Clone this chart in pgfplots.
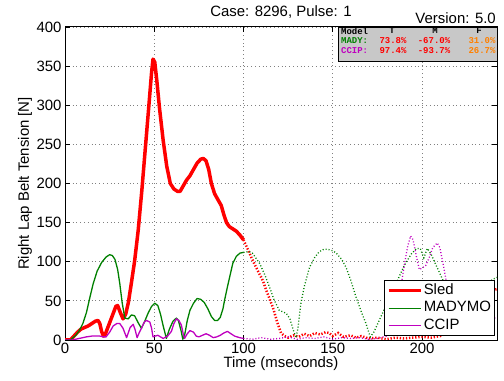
\documentclass[border=0pt]{standalone}
\usepackage{pgfplots}
\pgfplotsset{compat=1.18}
\usepackage{fontspec}
\setmainfont{Liberation Sans}
\setmonofont{Liberation Mono}

\definecolor{sledred}{RGB}{255,0,0}
\definecolor{madygreen}{RGB}{0,128,0}
\definecolor{ccipmag}{RGB}{191,0,191}
\definecolor{boxgray}{RGB}{200,200,200}
\definecolor{statorange}{RGB}{255,128,0}

\begin{document}
\begin{tikzpicture}[font=\fontsize{15}{18}\selectfont]
  % full frame of the reference image
  \path (-65bp,-41bp) rectangle (439bp,340bp);
  \begin{axis}[
      scale only axis,
      width=432bp, height=313bp,
      at={(0,0)}, anchor=south west,
      xmin=0, xmax=242,
      ymin=0, ymax=400,
      xtick={0,50,100,150,200},
      ytick={0,50,...,400},
      /pgf/number format/assume math mode=true,
      tick align=inside,
      major tick length=5bp,
      tick style={black, line width=0.8bp},
      axis line style={line width=1bp},
      grid=major,
      major grid style={gray, line width=0.8bp, dash pattern=on 1bp off 2.8bp},
      xlabel={Time (mseconds)},
      ylabel={Right Lap Belt Tension [N]},
      xlabel style={at={(axis description cs:0.5,-0.0767)}, anchor=center},
      ylabel style={at={(axis description cs:-0.0926,0.5)}, anchor=center},
      legend style={at={(axis description cs:0.9954,0.0128)}, anchor=south east,
        draw=black, line width=1bp, fill=white,
        inner xsep=2bp, inner ysep=1bp, row sep=0bp,
        font=\fontsize{15}{18}\selectfont,
        nodes={inner sep=1.5bp, text height=11bp, text depth=3.5bp}},
      legend cell align=left,
      legend image code/.code={\draw[#1] (0bp,0bp) -- (32bp,0bp);},
    ]
    % Sled, measured part
    \addplot[sledred, line width=3.5bp, line join=round] coordinates {
      (0,0)(3,0)(5,5)(7,10)(9,14)(11,16)(13,18)(15,21)(17,24)(18.5,25)
      (19.5,21)(20.5,11)(21.5,5)(22.5,7)(24,16)(25.5,25)(27,34)(28.5,43)
      (29.5,44)(31,35)(32.5,27)(34,33)(35.5,48)(37,70)(39,101)(41,140)
      (43,190)(45,245)(47,300)(48.5,342)(49.3,359)(50.3,355)(51.5,330)
      (53,295)(55,255)(57,222)(59,200)(61,193)(63,190)(64.5,190)(66,196)
      (68,204)(70,210)(72,218)(74,226)(76,231)(77.5,232)(79,229)(80.5,218)
      (82,200)(83.8,187)(85.5,180)(87.5,172)(89,160)(90.5,150)(92,145)
      (94,142)(96,139)(98,134)(100,128)
    };
    \addlegendentry{Sled}
    \addplot[madygreen, line width=1.3bp, line join=round] coordinates {
      (0,0)(3,0)(4,2)(6,6)(8,12)(10,21)(12,35)(14,55)(15.8,72)(18,88)
      (20.5,99)(23,106)(25,109)(26.5,108)(28,103)(29.5,90)(30.7,72)(32,48)
      (33.5,28)(35.4,27)(37.2,32)(39,31)(41,22)(42.8,15)(44.5,23)(46.5,34)
      (48.5,43)(50.3,47)(52,44)(53.5,33)(55,18)(56.8,2)(58.5,14)(60.5,24)
      (62.4,28)(63.5,25)(65,12)(66,1)(67,6)(68.5,25)(70,38)(72,47)(74,53)
      (76,52)(78,48)(80,40)(82,30)(83.8,25)(85.5,25)(87,29)(88.5,40)
      (89.4,51)(91,68)(92,78)(94,98)(96,107)(98,111)(100,112)
    };
    \addlegendentry{MADYMO}
    \addplot[ccipmag, line width=1.3bp, line join=round] coordinates {
      (0,0)(4,0)(6,1)(8,2)(10,3)(12,4)(15,5)(19.5,5)(21.5,4)(23,4)
      (25,10)(27,18)(29,21)(30.7,21)(32.5,15)(34.5,3)(36.5,16)(38.2,20)
      (39.3,13)(40.4,3)(41.5,9)(42.8,15)(44.5,23)(45.6,25)(47.5,23)
      (48.5,15)(49.3,4)(50.5,5)(52,6)(53.5,4)(55,2)(57.5,5)(59.6,11)
      (61,21)(62.4,27)(63.8,25)(65.2,19)(66.2,8)(67,2)(68.5,8)(70,12)
      (72,10)(73.5,5)(75,4)(77,6)(79,8)(81,6)(83,3)(85,4)(87,6)(89,9)
      (91,11)(93,8)(95,5)(97.8,3)(100,2)
    };
    \addlegendentry{CCIP}
    % continuation (dotted)
    \addplot[sledred, line width=2.5bp, dash pattern=on 1.3bp off 1.8bp, forget plot] coordinates {
      (100,128)(102,118)(104.3,106)(107,93)(110.8,76)(113,62)(116.4,42)
      (119,22)(121,9)(123,5)(125,3)(128,6)(131,4)(134,8)(137,5)(140,9)
      (143,7)(146,10)(148,9)(150,5)(153,9)(156,4)(160,6)(163,3)(166,5)
      (170,2)(175,3)(180,1)(185,3)(190,2)(195,3)(200,4)(205,3)(210,5)
      (215,10)(220,20)(225,35)(230,50)(235,60)(240,64)(242,65)
    };
    \addplot[madygreen, line width=1.3bp, dash pattern=on 1bp off 2bp, forget plot] coordinates {
      (100,112)(103,113)(105,111)(109,98)(112,83)(114.5,68)(117,52)
      (120,38)(122,36)(124,34)(126,27)(128,12)(129.4,3)(130.5,15)(132,45)
      (134,68)(137,93)(140,106)(142.5,113)(145,116)(147,116)(150,114)
      (152,111)(155,103)(157.4,93)(160,77)(163,55)(166,36)(168.6,21)
      (171,4)(173,10)(176,25)(180,45)(185,70)(190,95)(194,110)(197,117)
      (199,117)(201,105)(203,117)(205,110)(207,100)(210,85)(213,70)
      (216,55)(218,45)(222,40)(226,45)(230,55)(235,70)(240,78)(242,80)
    };
    \addplot[ccipmag, line width=1.3bp, dash pattern=on 1bp off 2bp, forget plot] coordinates {
      (100,2)(105,1)(110,3)(115,1)(120,2)(125,4)(130,1)(135,3)(140,2)
      (145,4)(150,1)(155,3)(160,2)(165,3)(170,1)(175,2)(180,5)(184,20)
      (187,50)(190,95)(192,120)(193.6,133)(195,128)(197,105)(198.5,90)
      (200,92)(202,95)(204,105)(206,118)(208.5,124)(210,118)(212,95)
      (214,70)(216,50)(220,35)(225,28)(230,25)(235,27)(240,28)(242,28)
    };
  \end{axis}
  % titles
  \node[anchor=base] at (216bp,323bp) {Case: 8296, Pulse: 1};
  \node[anchor=base east, inner sep=0pt] at (431bp,316.5bp) {Version: 5.0};
  % statistics box
  \draw[fill=boxgray, line width=0.8bp] (273bp,279bp) rectangle (432bp,313bp);
  \begin{scope}
    \clip (273bp,279bp) rectangle (432bp,313bp);
    \begin{scope}[font=\ttfamily\bfseries\fontsize{9}{10}\selectfont, inner sep=0pt]
      \node[anchor=north west] at (276bp,312.5bp) {Model};
      \node[anchor=north] at (327bp,312.5bp) {T};
      \node[anchor=north] at (370bp,312.5bp) {M};
      \node[anchor=north] at (414bp,312.5bp) {F};
      \node[anchor=west, text=madygreen] at (276bp,299bp) {MADY:};
      \node[text=sledred] at (328bp,299bp) {73.8\%};
      \node[text=sledred] at (369bp,299bp) {-67.0\%};
      \node[text=statorange] at (417bp,299bp) {31.0\%};
      \node[anchor=west, text=ccipmag] at (276bp,289bp) {CCIP:};
      \node[text=sledred] at (328bp,289bp) {97.4\%};
      \node[text=sledred] at (369bp,289bp) {-93.7\%};
      \node[text=statorange] at (417bp,289bp) {26.7\%};
    \end{scope}
  \end{scope}
\end{tikzpicture}
\end{document}
